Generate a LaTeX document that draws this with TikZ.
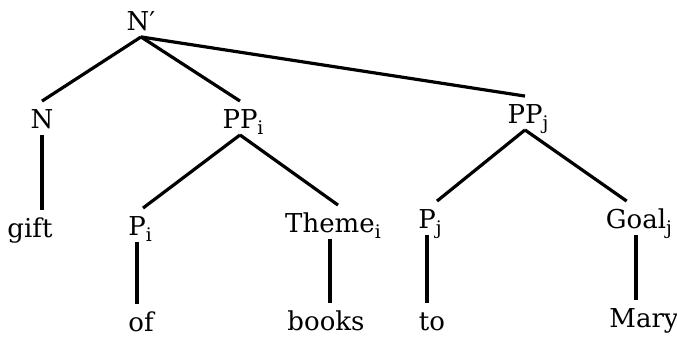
\documentclass[tikz,border=0pt]{standalone}
\usepackage{fontspec}
\setmainfont{DejaVu Serif}
\usetikzlibrary{calc}
\newcommand{\idx}[1]{\rlap{\raisebox{-4.5pt}{\fontsize{14}{14}\selectfont #1}}}

\begin{document}
\begin{tikzpicture}[x=0.75pt, y=-0.75pt, line width=2.4pt,
    nodes={anchor=base, inner xsep=0pt, inner ysep=4pt, text height=15pt, text depth=0pt,
           font=\fontsize{19.5}{22}\selectfont}]
    \useasboundingbox (0,0) rectangle (677,336);

    % categories
    \node (Nbar)  at (141,30)  {N′};
    \node (N)     at (42,128)  {N};
    \node (PPi)   at (240,128) {PP\idx{i}};
    \node (PPj)   at (525,123) {PP\idx{j}};
    \node (Pi)    at (137,235) {P\idx{i}};
    \node (Theme) at (330,232) {Theme\idx{i}};
    \node (Pj)    at (427,228) {P\idx{j}};
    \node (Goal)  at (636,228) {Goal\idx{j}};

    % words
    \node (gift)  at (30,237)  {gift};
    \node (of)    at (141,331) {of};
    \node (books) at (326,330) {books};
    \node (to)    at (432,330) {to};
    \node (Mary)  at (644,327) {Mary};

    \foreach \b in {N, PPi, PPj}
        \draw (Nbar.south) -- (\b.north);

    \draw (PPi.south) -- ([xshift=4.5pt]Pi.north);
    \draw (PPi.south) -- ([xshift=6pt]Theme.north);
    \draw (PPj.south) -- ([xshift=7.5pt]Pj.north);
    \draw (PPj.south) -- ([xshift=-7pt]Goal.north);

    \foreach \a/\b in {N/gift, Pi/of, Theme/books, Pj/to, Goal/Mary}
        \draw (\a.south) -- (\a.south |- \b.north);
\end{tikzpicture}
\end{document}
